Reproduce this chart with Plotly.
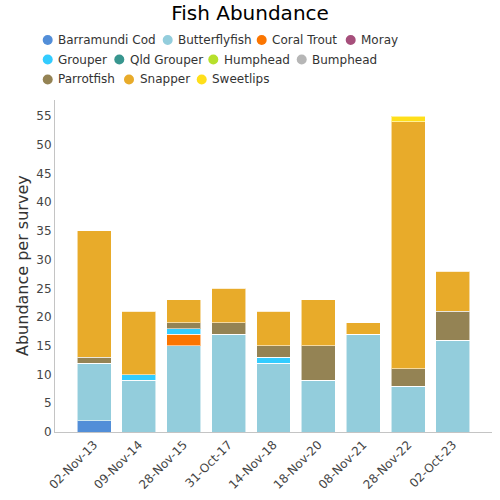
import plotly.graph_objects as go

# ---------------- data ----------------
survey_dates = ["02-Nov-13", "09-Nov-14", "28-Nov-15", "31-Oct-17", "14-Nov-18",
                "18-Nov-20", "08-Nov-21", "28-Nov-22", "02-Oct-23"]

barramundi_cod = [2, 0, 0, 0, 0, 0, 0, 0, 0]
butterflyfish  = [10, 9, 15, 17, 12, 9, 17, 8, 16]
coral_trout    = [0, 0, 2, 0, 0, 0, 0, 0, 0]
moray          = [0, 0, 0, 0, 0, 0, 0, 0, 0]
grouper        = [0, 1, 1, 0, 1, 0, 0, 0, 0]
qld_grouper    = [0, 0, 0, 0, 0, 0, 0, 0, 0]
humphead       = [0, 0, 0, 0, 0, 0, 0, 0, 0]
bumphead       = [0, 0, 0, 0, 0, 0, 0, 0, 0]
parrotfish     = [1, 0, 1, 2, 2, 6, 0, 3, 5]
snapper        = [22, 11, 4, 6, 6, 8, 2, 43, 7]
sweetlips      = [0, 0, 0, 0, 0, 0, 0, 1, 0]

species_names = ["Barramundi Cod", "Butterflyfish", "Coral Trout", "Moray",
                 "Grouper", "Qld Grouper", "Humphead", "Bumphead",
                 "Parrotfish", "Snapper", "Sweetlips"]
species_values = [barramundi_cod, butterflyfish, coral_trout, moray, grouper,
                  qld_grouper, humphead, bumphead, parrotfish, snapper, sweetlips]

# ---------------- style ----------------
colors = ["#528ed8", "#93cddc", "#fb7500", "#a64f7b", "#33ccff", "#38968f",
          "#b6e02c", "#b6b6b6", "#948354", "#e8ab2a", "#ffdf1a"]
FONT = "DejaVu Sans"
W, H = 500, 500
# plot area in page pixels: x 55..492, y 100..432
L, T, R, B = 55, 100, 8, 68
PW, PH = W - L - R, H - T - B

def px_x(px):
    return (px - L) / PW

def px_y(py):
    return (H - B - py) / PH

fig = go.Figure()
for name, vals, col in zip(species_names, species_values, colors):
    fig.add_trace(go.Bar(
        x=survey_dates, y=vals, name=name,
        marker=dict(color=col, line=dict(color="rgba(255,255,255,0.55)", width=1)),
        showlegend=False,
    ))

# custom legend (circle + text), row layout in page pixels
legend_rows = [
    (40, [47.7, 167.7, 261.7, 350.7]),
    (59.5, [47.7, 119.3, 213.3, 301.7]),
    (79.5, [47.7, 129.0, 201.7]),
]
shapes, annotations = [], []
i = 0
for ry, xs in legend_rows:
    for cx in xs:
        shapes.append(dict(
            type="circle", xref="paper", yref="paper",
            xsizemode="pixel", ysizemode="pixel",
            xanchor=px_x(cx), yanchor=px_y(ry),
            x0=-5, x1=5, y0=-5, y1=5,
            fillcolor=colors[i], line=dict(width=0),
        ))
        annotations.append(dict(
            xref="paper", yref="paper", x=px_x(cx + 8.5), y=px_y(ry),
            xanchor="left", yanchor="middle", showarrow=False,
            text=species_names[i], font=dict(family=FONT, size=12, color="#333333"),
        ))
        i += 1

# y-axis title as rotated annotation
annotations.append(dict(
    xref="paper", yref="paper", x=px_x(22), y=px_y(266),
    xanchor="center", yanchor="middle", showarrow=False, textangle=-90,
    text="Abundance per survey", font=dict(family=FONT, size=16, color="#333333"),
))

fig.update_layout(
    width=W, height=H,
    margin=dict(l=L, r=R, t=T, b=B, autoexpand=False),
    barmode="stack", bargap=0.243,
    plot_bgcolor="white", paper_bgcolor="white",
    font=dict(family=FONT, color="#444444"),
    title=dict(text="Fish Abundance", x=0.5, xanchor="center",
               y=1 - 13 / H, yanchor="middle", yref="container",
               font=dict(family=FONT, size=20, color="#000000")),
    shapes=shapes, annotations=annotations,
    showlegend=False,
)
fig.update_xaxes(type="category", range=[-0.87, 8.87], tickangle=-45, automargin=False,
                 showline=True, linecolor="#c4c4c4", linewidth=1,
                 showgrid=False, ticks="", tickfont=dict(family=FONT, size=12, color="#444444"))
fig.update_yaxes(range=[0, 57.8], dtick=5, showline=True, linecolor="#c4c4c4", linewidth=1,
                 automargin=False, showgrid=False, zeroline=False, ticks="",
                 tickfont=dict(family=FONT, size=12, color="#444444"))

fig.write_html("out.html", config={"displayModeBar": False},
               post_script="document.body.style.margin='0';")
